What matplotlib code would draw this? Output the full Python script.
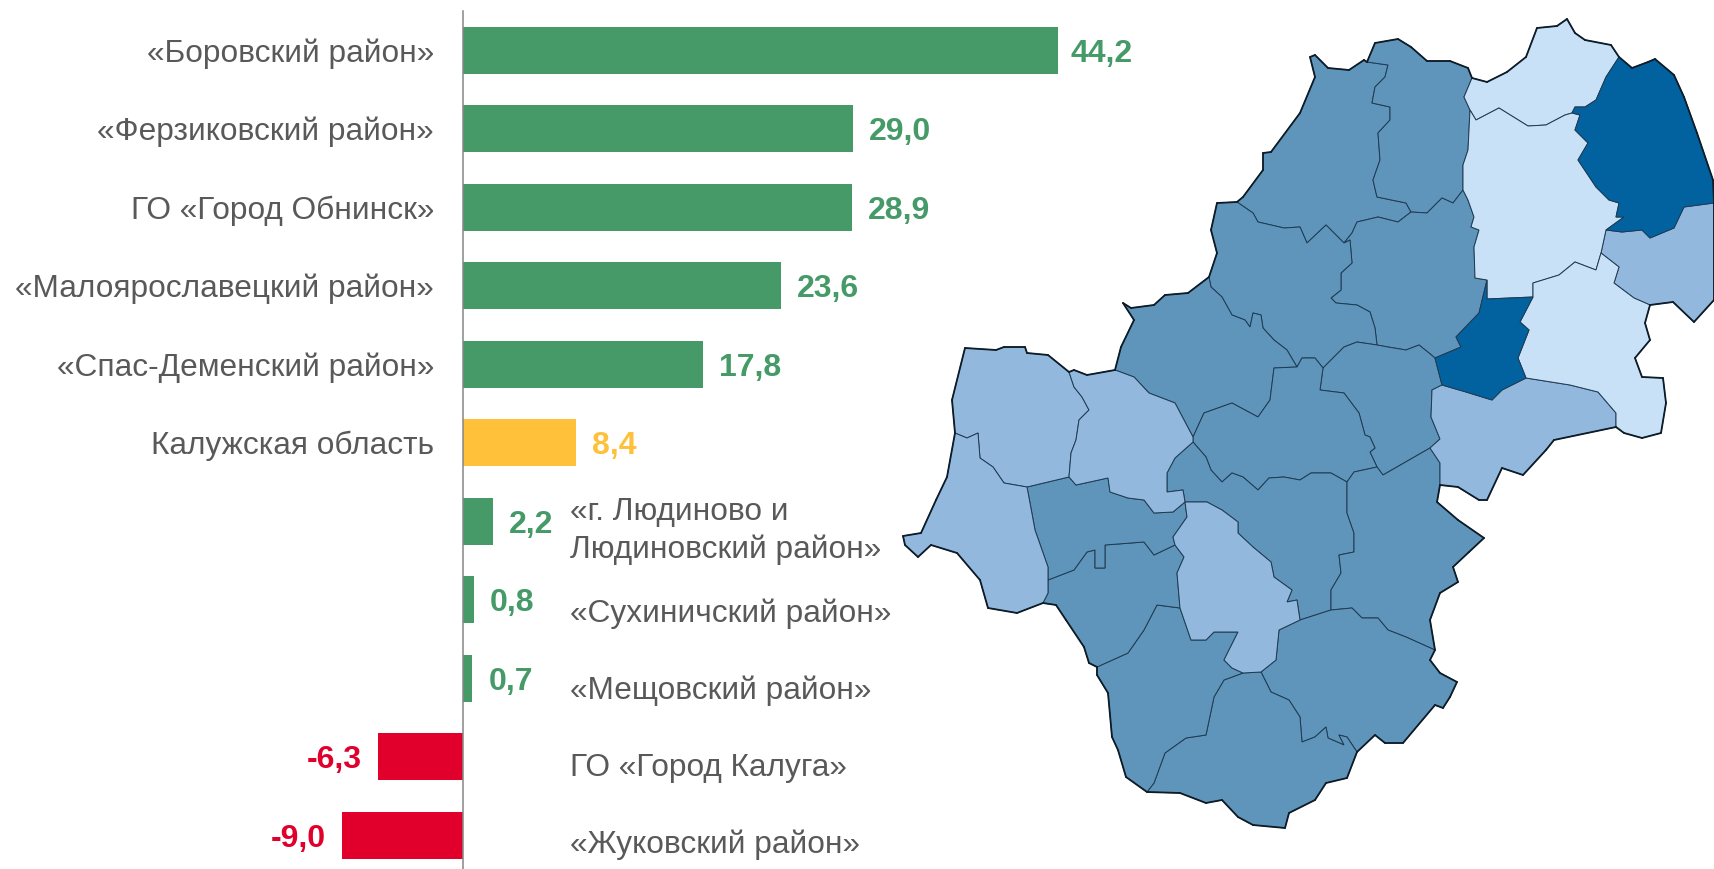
import matplotlib
matplotlib.use("Agg")
import matplotlib.pyplot as plt
from collections import Counter

# ------------------------------------------
# bar data
# ------------------------------------------
categories = ["«Боровский район»", "«Ферзиковский район»", "ГО «Город Обнинск»",
              "«Малоярославецкий район»", "«Спас-Деменский район»", "Калужская область",
              "«г. Людиново и\nЛюдиновский район»", "«Сухиничский район»",
              "«Мещовский район»", "ГО «Город Калуга»", "«Жуковский район»"]
values = [44.2, 29.0, 28.9, 23.6, 17.8, 8.4, 2.2, 0.8, 0.7, -6.3, -9.0]
value_labels = ["44,2", "29,0", "28,9", "23,6", "17,8", "8,4", "2,2", "0,8", "0,7", "-6,3", "-9,0"]
bar_groups = ["g", "g", "g", "g", "g", "y", "g", "g", "g", "r", "r"]

# ------------------------------------------
# map outlines, traced in image pixels
# ------------------------------------------
nw_west = [(1310,57),(1315,55),(1328,68),(1349,70),(1364,60),(1367,62),(1388,65),(1385,77),(1375,87),(1372,103),
           (1390,107),(1390,120),(1378,133),(1380,160),(1373,180),(1377,197),(1406,203),(1411,212),(1398,222),
           (1378,217),(1357,222),(1352,233),(1344,243),(1326,225),(1307,243),(1300,227),(1284,228),(1258,222),
           (1253,213),(1237,202),(1243,197),(1263,170),(1263,153),(1271,152),(1300,113),(1315,77)]
nw_east = [(1367,62),(1375,43),(1398,39),(1411,47),(1427,61),(1450,61),(1468,68),(1472,78),(1464,97),(1470,110),
           (1468,150),(1463,165),(1463,190),(1453,203),(1442,198),(1427,213),(1411,212),(1406,203),(1377,197),
           (1373,180),(1380,160),(1378,133),(1390,120),(1390,107),(1372,103),(1375,87),(1385,77),(1388,65)]
centre_east = [(1357,222),(1378,217),(1398,222),(1411,212),(1427,213),(1442,198),(1453,203),(1463,190),(1468,200),
               (1474,217),(1471,227),(1479,230),(1474,247),(1475,278),(1487,280),(1479,313),(1456,337),(1461,347),
               (1435,358),(1429,353),(1419,345),(1406,350),(1388,347),(1377,345),(1375,328),(1370,312),(1357,305),
               (1336,303),(1331,298),(1341,290),(1341,273),(1352,263),(1350,240),(1344,243),(1352,233)]
centre_west = [(1237,202),(1253,213),(1258,222),(1284,228),(1300,227),(1307,243),(1326,225),(1344,243),(1350,240),
               (1352,263),(1341,273),(1341,290),(1331,298),(1336,303),(1357,305),(1370,312),(1375,328),(1377,345),
               (1357,342),(1344,347),(1323,368),(1315,358),(1302,358),(1297,367),(1287,350),(1274,340),(1263,328),
               (1261,315),(1253,313),(1250,327),(1245,320),(1232,315),(1222,297),(1211,287),(1209,277),(1217,253),
               (1211,230),(1217,203)]
west_mid = [(1123,303),(1131,308),(1154,305),(1165,295),(1188,293),(1209,277),(1211,287),(1222,297),(1232,315),
            (1245,320),(1250,327),(1253,313),(1261,315),(1263,328),(1274,340),(1287,350),(1297,367),(1274,368),
            (1270,400),(1258,417),(1232,403),(1204,413),(1193,437),(1175,403),(1149,393),(1134,377),(1115,370),
            (1121,347),(1134,320)]
centre_a = [(1323,368),(1344,347),(1357,342),(1377,345),(1388,347),(1406,350),(1419,345),(1429,353),(1435,358),
            (1442,385),(1432,390),(1431,417),(1440,439),(1430,448),(1383,475),(1377,467),(1370,452),(1375,448),
            (1370,437),(1365,435),(1359,413),(1344,393),(1320,390)]
centre_b = [(1297,367),(1302,358),(1315,358),(1323,368),(1320,390),(1344,393),(1359,413),(1365,435),(1370,437),
            (1375,448),(1370,452),(1377,467),(1354,472),(1347,482),(1331,473),(1311,473),(1300,480),(1284,477),
            (1269,478),(1258,490),(1243,477),(1232,473),(1222,482),(1211,470),(1206,457),(1193,442),(1193,437),
            (1204,413),(1232,403),(1258,417),(1270,400),(1274,368)]
centre_c = [(1193,442),(1206,457),(1211,470),(1222,482),(1232,473),(1243,477),(1258,490),(1269,478),(1284,477),
            (1300,480),(1311,473),(1331,473),(1347,482),(1347,513),(1354,533),(1354,552),(1339,555),
            (1341,573),(1331,590),(1331,610),(1300,620),(1297,600),(1287,602),(1292,590),(1274,577),(1271,562),
            (1253,547),(1238,533),(1238,522),(1222,510),(1207,502),(1185,502),(1183,490),(1167,492),(1167,473),
            (1175,458),(1193,442)]
east_mid = [(1354,472),(1377,467),(1383,475),(1430,448),(1440,463),(1440,485),(1437,502),(1458,520),(1484,538),
            (1469,552),(1453,567),(1458,582),(1440,593),(1430,620),(1435,650),(1406,637),(1388,630),(1378,618),
            (1362,618),(1352,608),(1331,610),(1331,590),(1341,573),(1339,555),(1354,552),(1354,533),(1347,513),
            (1347,482)]
south_east = [(1300,620),(1331,610),(1352,608),(1362,618),(1378,618),(1388,630),(1406,637),(1435,650),(1430,660),
              (1440,673),(1457,682),(1450,697),(1443,708),(1435,705),(1403,743),(1385,743),(1375,735),(1357,752),
              (1347,737),(1339,735),(1344,745),(1328,738),(1326,727),(1315,737),(1302,742),(1300,717),(1289,700),
              (1271,692),(1261,672),(1276,660),(1279,630)]
south = [(1261,672),(1271,692),(1289,700),(1300,717),(1302,742),(1315,737),(1326,727),(1328,738),(1344,745),
         (1339,735),(1347,737),(1357,752),(1347,778),(1326,783),(1315,800),(1289,813),(1285,828),(1253,825),
         (1238,817),(1222,800),(1206,803),(1180,793),(1147,792),(1154,783),(1165,753),(1186,738),(1206,735),
         (1214,697),(1224,680),(1243,673)]
south_west = [(1097,667),(1128,653),(1144,630),(1157,605),(1180,608),(1191,640),(1206,640),(1214,632),(1238,632),
              (1224,660),(1232,668),(1243,673),(1224,680),(1214,697),(1206,735),(1186,738),(1165,753),(1154,783),
              (1147,792),(1126,777),(1118,750),(1112,737),(1108,693),(1097,675)]
lower_left = [(1048,580),(1074,570),(1087,552),(1095,550),(1095,568),(1105,568),(1105,545),(1144,542),(1154,555),
              (1175,545),(1184,557),(1177,573),(1180,608),(1157,605),(1144,630),(1128,653),(1097,667),(1089,663),
              (1084,647),(1066,620),(1056,605),(1043,603),(1048,593)]
upper_left = [(1027,487),(1069,477),(1076,485),(1108,478),(1110,492),(1128,498),(1144,500),(1154,513),(1173,512),
              (1185,502),(1187,517),(1173,537),(1175,545),(1154,555),(1144,542),(1105,545),(1105,568),(1095,568),
              (1095,550),(1087,552),(1074,570),(1048,580),(1048,567),(1035,530),(1030,503)]
inner_lobe = [(1185,502),(1207,502),(1222,510),(1238,522),(1238,533),(1253,547),(1271,562),(1274,577),(1292,590),
              (1287,602),(1297,600),(1300,620),(1279,630),(1276,660),(1261,672),(1243,673),(1232,668),(1224,660),
              (1238,632),(1214,632),(1206,640),(1191,640),(1180,608),(1177,573),(1184,557),(1175,545),(1173,537),
              (1187,517)]
west_big = [(955,433),(952,400),(965,348),(996,350),(1004,347),(1025,347),(1027,353),(1048,355),(1069,372),(1074,387),
            (1082,397),(1089,410),(1079,420),(1076,440),(1071,453),(1069,477),(1027,487),(1004,483),(993,467),
            (980,458),(978,433),(967,438)]
west_next = [(1069,372),(1074,370),(1087,375),(1115,370),(1134,377),(1149,393),(1175,403),(1193,437),(1193,442),
             (1175,458),(1167,473),(1167,492),(1183,490),(1185,502),(1173,512),(1154,513),(1144,500),(1128,498),
             (1110,492),(1108,478),(1076,485),(1069,477),(1071,453),(1076,440),(1079,420),(1089,410),(1082,397),
             (1074,387)]
far_west = [(955,433),(967,438),(978,433),(980,458),(993,467),(1004,483),(1027,487),(1030,503),(1035,530),(1048,567),
            (1048,580),(1048,593),(1043,603),(1017,613),(988,608),(980,580),(957,553),(931,545),(918,557),(905,545),
            (903,536),(921,533),(936,500),(947,477)]
north_top = [(1472,78),(1487,82),(1507,72),(1526,57),(1537,28),(1557,26),(1567,19),(1575,33),(1585,40),(1611,45),
             (1619,57),(1606,77),(1596,100),(1585,107),(1575,107),(1572,113),(1565,115),(1546,125),(1528,126),
             (1499,108),(1476,120),(1470,110),(1464,97)]
north_column = [(1476,120),(1499,108),(1528,126),(1546,125),(1565,115),(1572,113),(1580,115),(1575,130),(1588,143),
                (1578,160),(1596,187),(1609,200),(1619,203),(1616,217),(1624,217),(1606,230),(1601,253),(1596,270),
                (1575,262),(1559,275),(1533,283),(1533,297),(1487,299),(1487,280),(1475,278),(1474,247),(1479,230),
                (1471,227),(1474,217),(1468,200),(1463,190),(1463,165),(1468,150),(1470,110)]
north_dark = [(1619,57),(1632,68),(1648,62),(1655,59),(1674,75),(1684,97),(1697,133),(1713,180),(1714,203),(1684,207),
              (1674,228),(1650,238),(1642,230),(1622,232),(1606,230),(1624,217),(1616,217),(1619,203),(1609,200),
              (1596,187),(1578,160),(1588,143),(1575,130),(1580,115),(1572,113),(1575,107),(1585,107),(1596,100),
              (1606,77)]
east_edge = [(1606,230),(1622,232),(1642,230),(1650,238),(1674,228),(1684,207),(1714,203),(1714,300),(1694,322),
             (1673,302),(1650,305),(1634,298),(1614,283),(1619,267),(1601,253)]
east_light = [(1533,283),(1559,275),(1575,262),(1596,270),(1601,253),(1619,267),(1614,283),(1634,298),(1650,305),
              (1645,323),(1650,340),(1635,358),(1642,377),(1663,378),(1666,403),(1661,433),(1642,438),(1624,433),
              (1616,427),(1616,413),(1598,392),(1570,385),(1526,378),(1518,358),(1529,330),(1520,322),(1533,297)]
small_dark = [(1487,299),(1533,297),(1520,322),(1529,330),(1518,358),(1526,378),(1502,390),(1492,400),(1466,392),
              (1442,385),(1435,358),(1461,347),(1456,337),(1479,313),(1487,280)]
south_of_dark = [(1442,385),(1466,392),(1492,400),(1502,390),(1526,378),(1570,385),(1598,392),(1616,413),(1616,427),
                 (1554,440),(1546,450),(1523,475),(1502,468),(1487,500),(1479,500),(1458,487),(1440,485),
                 (1440,463),(1430,448),(1440,439),(1431,417),(1432,390)]

map_medium = [nw_west, nw_east, centre_east, centre_west, west_mid, centre_a, centre_b, centre_c, east_mid,
              south_east, south, south_west, lower_left, upper_left]
map_midlight = [west_big, west_next, far_west, inner_lobe, east_edge, south_of_dark]
map_light = [north_top, north_column, east_light]
map_dark = [north_dark, small_dark]

# ------------------------------------------
# styles and layout
# ------------------------------------------
W, H = 1714, 869
FONT = "Liberation Sans"
GREY = "#595959"
COLORS = {"g": "#459A68", "y": "#FFC03A", "r": "#E0002B"}
PX_PER_UNIT = 13.46
ZERO_PX = 463
FIRST_PX = 50.5
STEP_PX = 78.45
LABEL_SIZE = 22.8
VALUE_SIZE = 23
RIGHT_DY = [-9.5, -14, -13, -11, -10]  # the labels right of the axis are not quite on the bar rows


def px(n):
    return n * 72 / 100


def draw_bars(ax):
    y = list(range(len(values)))
    colors = [COLORS[g] for g in bar_groups]
    ax.barh(y, values, height=47 / STEP_PX, color=colors, zorder=2)
    ax.axvline(0, ymin=0, ymax=1 - 11 / H, color="#868686", linewidth=1.1, zorder=3)

    for i, v in enumerate(values):
        c = colors[i]
        if v >= 0:
            # the longest bar's label sits a little closer in the original
            off, ha = px(13 if i == 0 else 16), "left"
        else:
            off, ha = -px(16), "right"
        ax.annotate(value_labels[i], (v, i), xytext=(off, -px(3.5)), textcoords="offset points",
                    ha=ha, va="center", color=c, fontsize=VALUE_SIZE, fontweight="bold", family=FONT)

        # first six sit left of the axis, the rest to the right
        if i < 6:
            ax.annotate(categories[i], (0, i), xytext=(-px(29), -px(3)), textcoords="offset points",
                        ha="right", va="center", color=GREY, fontsize=LABEL_SIZE, family=FONT)
        else:
            ax.annotate(categories[i], (0, i), xytext=(px(107), px(RIGHT_DY[i - 6])), textcoords="offset points",
                        ha="left", va="center", color=GREY, fontsize=LABEL_SIZE, family=FONT, linespacing=1.33)


def draw_map(ax):
    groups = [(map_medium, "#5F95BA"), (map_midlight, "#92B8DE"), (map_light, "#C9E1F7"), (map_dark, "#02629F")]
    edges = Counter()
    for regions, color in groups:
        for region in regions:
            xs, ys = zip(*region)
            ax.fill(xs, ys, facecolor=color, edgecolor="#1E3A52", linewidth=0.7, zorder=1)
            for a, b in zip(region, region[1:] + region[:1]):
                edges[frozenset((a, b))] += 1

    # segments used by one region only make the outer border, which is heavier
    for edge, n in edges.items():
        if n == 1 and len(edge) == 2:
            a, b = tuple(edge)
            ax.plot([a[0], b[0]], [a[1], b[1]], color="#0E1C28", linewidth=1.3,
                    solid_capstyle="round", zorder=1.5)


def main():
    fig = plt.figure(figsize=(W / 100, H / 100), dpi=100, facecolor="white")

    ax_map = fig.add_axes([0, 0, 1, 1])
    ax_map.set_xlim(0, W)
    ax_map.set_ylim(H, 0)
    ax_map.axis("off")
    draw_map(ax_map)

    ax = fig.add_axes([0, 0, 1, 1])
    ax.patch.set_alpha(0)
    ax.set_xlim(-ZERO_PX / PX_PER_UNIT, (W - ZERO_PX) / PX_PER_UNIT)
    ax.set_ylim((H - FIRST_PX) / STEP_PX, -FIRST_PX / STEP_PX)
    ax.axis("off")
    draw_bars(ax)

    fig.savefig("out.png", dpi=100)


if __name__ == "__main__":
    main()
